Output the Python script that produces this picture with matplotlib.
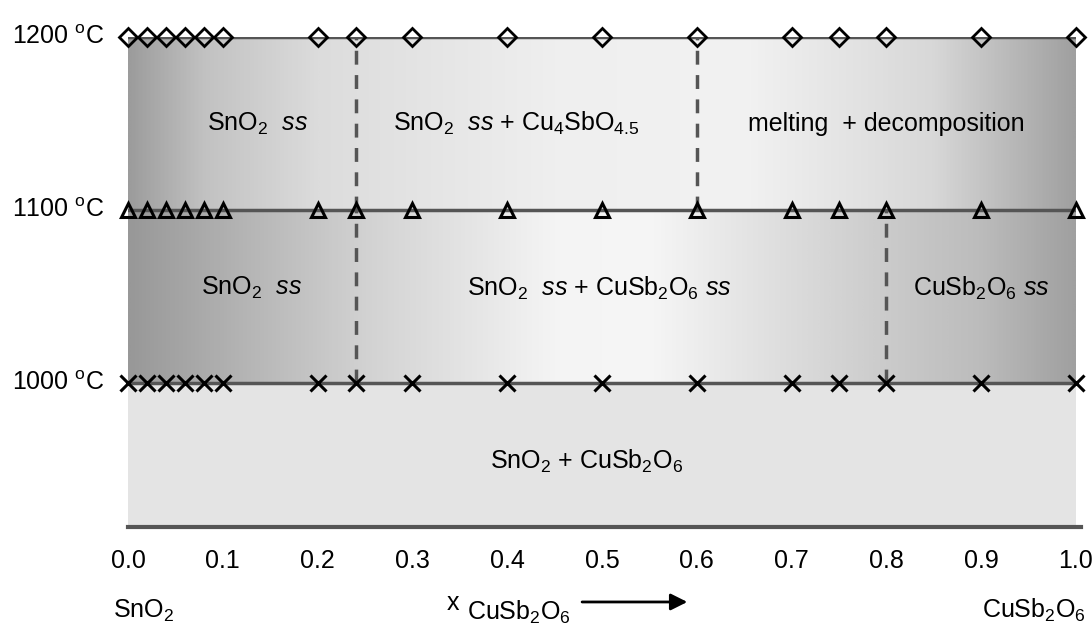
import numpy as np
import matplotlib as mpl
mpl.use('Agg')
import matplotlib.pyplot as plt
from matplotlib.colors import LinearSegmentedColormap

# compositions x(CuSb2O6) measured at each temperature
xComp = [0.0, 0.02, 0.04, 0.06, 0.08, 0.10, 0.20, 0.24, 0.30, 0.40,
         0.50, 0.60, 0.70, 0.75, 0.80, 0.90, 1.00]
temps = [1000, 1100, 1200]
tMin = 917
xTicks = [0.0, 0.1, 0.2, 0.3, 0.4, 0.5, 0.6, 0.7, 0.8, 0.9, 1.0]

# phase boundaries (x, lower T, upper T)
boundaries = [(0.24, 1100, 1200), (0.60, 1100, 1200),
              (0.24, 1000, 1100), (0.80, 1000, 1100)]

# region labels (x, T, text)
regions = [(0.137, 1150, r'SnO$_2$  $ss$'),
           (0.41, 1150, r'SnO$_2$  $ss$ + Cu$_4$SbO$_{4.5}$'),
           (0.80, 1150, r'melting  + decomposition'),
           (0.13, 1055, r'SnO$_2$  $ss$'),
           (0.497, 1055, r'SnO$_2$  $ss$ + CuSb$_2$O$_6$ $ss$'),
           (0.9, 1055, r'CuSb$_2$O$_6$ $ss$'),
           (0.484, 955, r'SnO$_2$ + CuSb$_2$O$_6$')]

mpl.rcParams['font.family'] = ['Liberation Sans', 'DejaVu Sans']
mpl.rcParams['mathtext.fontset'] = 'custom'
mpl.rcParams['mathtext.rm'] = 'Liberation Sans'
mpl.rcParams['mathtext.it'] = 'Liberation Sans:italic'
mpl.rcParams['font.size'] = 18

fig = plt.figure(figsize=(10.92, 6.28), dpi=100)
ax = fig.add_axes([128 / 1092, 101 / 628, 948 / 1092, 490 / 628])
ax.set_xlim(0, 1)
ax.set_ylim(tMin, 1200)

lineC = '#555555'

# grey shading of the bands
topStops = [(0.0, '#9c9c9c'), (0.08, '#c2c2c2'), (0.2, '#dcdcdc'),
            (0.45, '#efefef'), (0.65, '#f2f2f2'), (0.85, '#d8d8d8'),
            (1.0, '#a0a0a0')]
midStops = [(0.0, '#989898'), (0.12, '#b4b4b4'), (0.25, '#d2d2d2'),
            (0.45, '#f4f4f4'), (0.55, '#f6f6f6'), (0.7, '#dcdcdc'),
            (0.8, '#cbcbcb'), (0.9, '#bcbcbc'), (1.0, '#a0a0a0')]
grad = np.linspace(0, 1, 512).reshape(1, -1)
for stops, (t0, t1) in [(topStops, (1100, 1200)), (midStops, (1000, 1100))]:
    cmap = LinearSegmentedColormap.from_list('g', stops)
    ax.imshow(grad, cmap=cmap, aspect='auto', extent=(0, 1, t0, t1),
              zorder=0, interpolation='bilinear')
ax.fill_between([0, 1], tMin, 1000, color='#e4e4e4', lw=0, zorder=0)

# isotherms and bottom line
for t in temps:
    ax.plot([0, 1], [t, t], color=lineC, lw=2.5, zorder=2)
ax.plot([0, 1.005], [tMin, tMin], color=lineC, lw=3, zorder=2,
        clip_on=False)

# phase boundaries
for xb, t0, t1 in boundaries:
    ax.plot([xb, xb], [t0, t1], color=lineC, lw=2.5, ls=(0, (4, 3)),
            zorder=2)

# measured points
mk = dict(ls='none', clip_on=False, zorder=3)
ax.plot(xComp, [1200] * len(xComp), marker='D', ms=9, mfc='none',
        mec='k', mew=2, **mk)
ax.plot(xComp, [1100] * len(xComp), marker='^', ms=10, mfc='none',
        mec='k', mew=2.2, **mk)
ax.plot(xComp, [1000] * len(xComp), marker='x', ms=11, mec='k',
        mew=2.2, **mk)

for xr, tr, s in regions:
    ax.text(xr, tr, s, ha='center', va='center', zorder=4)

for t in temps:
    ax.text(-0.025, t, r'%d $^{\rm o}$C' % t, ha='right', va='center')

for s in ax.spines.values():
    s.set_visible(False)
ax.set_yticks([])
ax.set_xticks(xTicks)
ax.set_xticklabels(['%.1f' % v for v in xTicks])
ax.tick_params(axis='x', length=0, pad=16, labelsize=18)

# composition axis annotation
ax.text(-0.0158, -0.1857, r'SnO$_2$', transform=ax.transAxes, ha='left',
        va='baseline')
ax.text(0.3365, -0.1694, 'x', transform=ax.transAxes, ha='left',
        va='baseline')
ax.text(0.3576, -0.1898, r'CuSb$_2$O$_6$', transform=ax.transAxes,
        ha='left', va='baseline')
ax.annotate('', xy=(0.59, -0.153), xytext=(0.479, -0.153),
            xycoords='axes fraction',
            arrowprops=dict(arrowstyle='-|>', color='k', lw=2,
                            mutation_scale=25, shrinkA=0, shrinkB=0))
ax.text(0.9008, -0.1857, r'CuSb$_2$O$_6$', transform=ax.transAxes,
        ha='left', va='baseline')

fig.savefig('out.png', dpi=100)
